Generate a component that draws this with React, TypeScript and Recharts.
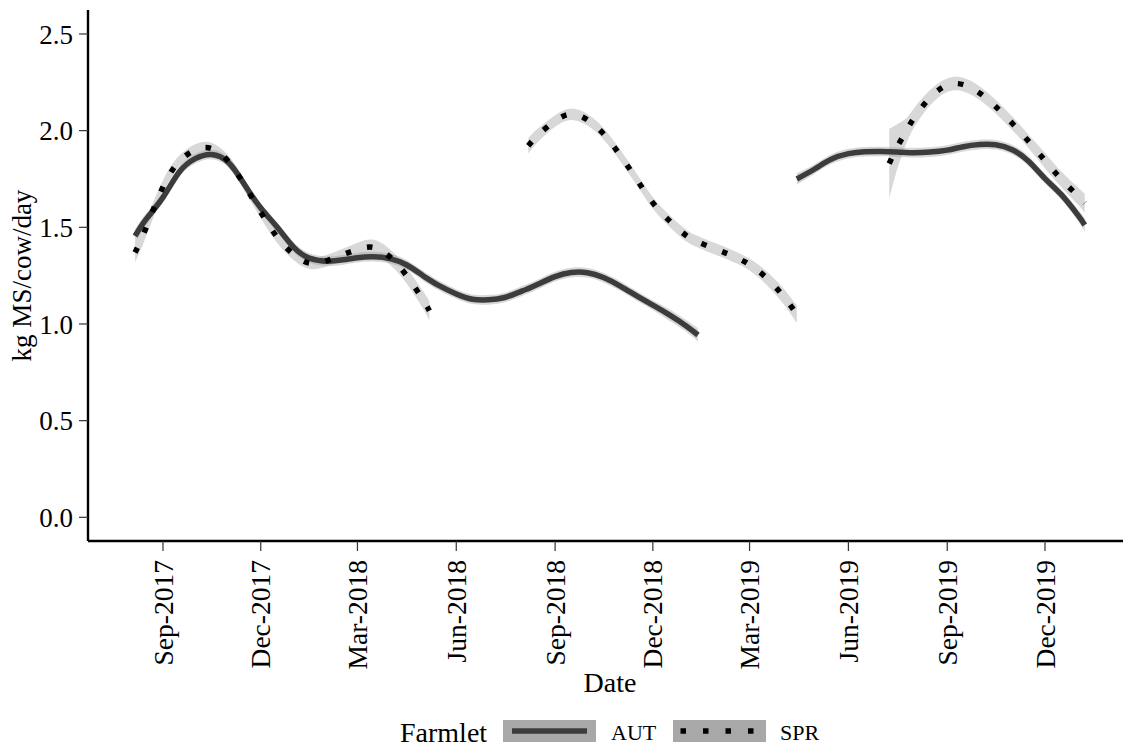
import React from "react";
import { ComposedChart, Line, Area, XAxis, YAxis, Legend } from "recharts";

// Daily milk solids per cow, smoothed fit with its confidence band, by farmlet.
const FONT = '"Liberation Serif", "Times New Roman", Times, serif';

const dates = [
  "2017-08-06", "2017-08-16", "2017-09-01", "2017-09-16", "2017-10-01", "2017-10-16",
  "2017-11-01", "2017-11-16", "2017-12-01", "2017-12-16", "2018-01-01", "2018-01-16",
  "2018-02-01", "2018-02-16", "2018-03-01", "2018-03-16", "2018-04-01", "2018-04-16",
  "2018-05-01", "2018-05-07", "2018-05-16", "2018-06-01", "2018-06-16", "2018-07-01",
  "2018-07-16", "2018-08-01", "2018-08-07", "2018-08-16", "2018-09-01", "2018-09-16",
  "2018-10-01", "2018-10-16", "2018-11-01", "2018-11-16", "2018-12-01", "2018-12-16",
  "2019-01-01", "2019-01-12", "2019-01-16", "2019-02-01", "2019-02-16", "2019-03-01",
  "2019-03-16", "2019-04-01", "2019-04-14", "2019-05-01", "2019-05-16", "2019-06-01",
  "2019-06-16", "2019-07-01", "2019-07-09", "2019-07-16", "2019-07-24", "2019-08-01",
  "2019-08-16", "2019-09-01", "2019-09-16", "2019-10-01", "2019-10-16", "2019-11-01",
  "2019-11-16", "2019-12-01", "2019-12-16", "2020-01-01", "2020-01-07",
];

// AUT farmlet: fitted kg MS/cow/day (null = no fit for that period)
const autFit: (number | null)[] = [
  1.455, 1.54, 1.655, 1.785, 1.855, 1.877,
  1.835, 1.72, 1.6, 1.503, 1.395, 1.339,
  1.325, 1.332, 1.343, 1.348, 1.337, 1.305,
  1.25, 1.228, 1.198, 1.155, 1.128, 1.125,
  1.137, 1.17, 1.183, 1.205, 1.245, 1.266,
  1.265, 1.24, 1.195, 1.145, 1.097, 1.048,
  0.99, 0.943, null, null, null, null,
  null, null, 1.75, 1.803, 1.852, 1.881,
  1.891, 1.892, 1.891, 1.889, 1.887, 1.886,
  1.889, 1.899, 1.917, 1.928, 1.927, 1.9,
  1.84, 1.752, 1.67, 1.56, 1.512,
];
const autHalfWidth = [
  0.035, 0.03, 0.025, 0.025, 0.025, 0.025,
  0.025, 0.025, 0.025, 0.025, 0.025, 0.025,
  0.025, 0.025, 0.025, 0.025, 0.025, 0.025,
  0.025, 0.025, 0.025, 0.025, 0.025, 0.025,
  0.025, 0.025, 0.025, 0.025, 0.025, 0.025,
  0.025, 0.025, 0.025, 0.025, 0.025, 0.03,
  0.03, 0.035, 0, 0, 0, 0,
  0, 0, 0.03, 0.025, 0.025, 0.025,
  0.025, 0.025, 0.025, 0.025, 0.025, 0.025,
  0.025, 0.025, 0.025, 0.025, 0.025, 0.025,
  0.025, 0.025, 0.025, 0.03, 0.035,
];

// SPR farmlet
const sprFit: (number | null)[] = [
  1.37, 1.494, 1.709, 1.84, 1.9, 1.908,
  1.84, 1.717, 1.578, 1.451, 1.358, 1.314,
  1.328, 1.36, 1.385, 1.396, 1.343, 1.248,
  1.125, 1.068, null, null, null, null,
  null, null, 1.922, 1.976, 2.05, 2.085,
  2.056, 1.984, 1.869, 1.747, 1.626, 1.536,
  1.458, 1.425, 1.415, 1.38, 1.345, 1.307,
  1.242, 1.147, 1.05, null, null, null,
  null, null, 1.83, 1.912, 1.99, 2.065,
  2.17, 2.235, 2.238, 2.195, 2.125, 2.035,
  1.943, 1.845, 1.75, 1.66, 1.625,
];
const sprHalfWidth = [
  0.05, 0.045, 0.035, 0.03, 0.03, 0.03,
  0.03, 0.03, 0.03, 0.03, 0.03, 0.03,
  0.03, 0.03, 0.035, 0.04, 0.04, 0.04,
  0.045, 0.05, 0, 0, 0, 0,
  0, 0, 0.04, 0.035, 0.03, 0.03,
  0.03, 0.03, 0.03, 0.03, 0.03, 0.03,
  0.03, 0.03, 0.03, 0.03, 0.03, 0.03,
  0.035, 0.04, 0.045, 0, 0, 0,
  0, 0, 0.18, 0.12, 0.07, 0.05,
  0.04, 0.035, 0.035, 0.035, 0.035, 0.035,
  0.035, 0.04, 0.04, 0.045, 0.05,
];

const tickDates = [
  "2017-09-01", "2017-12-01", "2018-03-01", "2018-06-01", "2018-09-01",
  "2018-12-01", "2019-03-01", "2019-06-01", "2019-09-01", "2019-12-01",
];
const tickLabels = [
  "Sep-2017", "Dec-2017", "Mar-2018", "Jun-2018", "Sep-2018",
  "Dec-2018", "Mar-2019", "Jun-2019", "Sep-2019", "Dec-2019",
];
const yTicks = [0, 0.5, 1, 1.5, 2, 2.5];

const DAY_MS = 86400000;
const ORIGIN = Date.UTC(2017, 8, 1);
const toDay = (iso: string) => {
  const [y, m, d] = iso.split("-").map(Number);
  return (Date.UTC(y, m - 1, d) - ORIGIN) / DAY_MS;
};

const band = (v: number | null, h: number) => (v == null ? null : [v - h, v + h]);

const rows = dates.map((d, i) => ({
  day: toDay(d),
  aut: autFit[i],
  autBand: band(autFit[i], autHalfWidth[i]),
  spr: sprFit[i],
  sprBand: band(sprFit[i], sprHalfWidth[i]),
}));

const tickDays = tickDates.map(toDay);
const labelByDay = new Map(tickDays.map((d, i) => [d, tickLabels[i]]));

const XTick = (props: any) => {
  const { x, y, payload } = props;
  return (
    <text
      x={x}
      y={y}
      transform={`rotate(-90, ${x}, ${y})`}
      textAnchor="end"
      dy="0.35em"
      fontSize={27.5}
      fontFamily={FONT}
      fill="#000"
    >
      {labelByDay.get(payload.value) ?? ""}
    </text>
  );
};

const YTitle = (props: any) => {
  const vb = props.viewBox ?? { x: 0, y: 10, width: 88, height: 531 };
  const cx = 31;
  const cy = vb.y + vb.height / 2;
  return (
    <text
      x={cx}
      y={cy}
      transform={`rotate(-90, ${cx}, ${cy})`}
      textAnchor="middle"
      fontSize={27}
      fontFamily={FONT}
      fill="#000"
    >
      kg MS/cow/day
    </text>
  );
};

const XTitle = (props: any) => {
  const vb = props.viewBox ?? { x: 88, y: 541, width: 1044, height: 205 };
  return (
    <text
      x={vb.x + vb.width / 2}
      y={vb.y + 151}
      textAnchor="middle"
      fontSize={28}
      fontFamily={FONT}
      fill="#000"
    >
      Date
    </text>
  );
};

const FarmletLegend = () => (
  <svg width={1123} height={46} style={{ display: "block" }}>
    <text x={400} y={41.5} fontSize={28} fontFamily={FONT} fill="#000">
      Farmlet
    </text>
    <rect x={503} y={20} width={93} height={22} fill="#a8a8a8" />
    <line x1={512} x2={587} y1={31} y2={31} stroke="#3c3c3c" strokeWidth={5.5} />
    <text x={611} y={39.5} fontSize={22} fontFamily={FONT} fill="#000">
      AUT
    </text>
    <rect x={673} y={20} width={93} height={22} fill="#a8a8a8" />
    <line
      x1={680.5}
      x2={754}
      y1={31}
      y2={31}
      stroke="#000"
      strokeWidth={5.5}
      strokeDasharray="5.5 17"
    />
    <text x={780} y={39.5} fontSize={22} fontFamily={FONT} fill="#000">
      SPR
    </text>
  </svg>
);

export default function App() {
  return (
    <div
      style={{
        position: "absolute",
        left: 0,
        top: 0,
        width: 1123,
        height: 746,
        overflow: "hidden",
        background: "#fff",
      }}
    >
      <ComposedChart
        width={1132}
        height={746}
        data={rows}
        margin={{ top: 10, right: 0, bottom: 0, left: 0 }}
      >
        <XAxis
          dataKey="day"
          type="number"
          domain={[-69.8, 902]}
          allowDataOverflow
          ticks={tickDays}
          interval={0}
          tick={<XTick />}
          tickSize={10}
          tickMargin={9}
          height={205}
          axisLine={{ stroke: "#000", strokeWidth: 2.4 }}
          tickLine={{ stroke: "#333", strokeWidth: 1.2 }}
          label={<XTitle />}
        />
        <YAxis
          type="number"
          domain={[-0.1225, 2.624]}
          allowDataOverflow
          ticks={yTicks}
          interval={0}
          tickFormatter={(v: number) => v.toFixed(1)}
          tick={{ fontSize: 27, fontFamily: FONT, fill: "#000" }}
          tickSize={9}
          tickMargin={6}
          width={88}
          axisLine={{ stroke: "#000", strokeWidth: 2.4 }}
          tickLine={{ stroke: "#333", strokeWidth: 1.2 }}
          label={<YTitle />}
        />
        <Area
          dataKey="autBand"
          type="natural"
          stroke="none"
          fill="#9e9e9e"
          fillOpacity={0.4}
          dot={false}
          activeDot={false}
          legendType="none"
          isAnimationActive={false}
        />
        <Line
          dataKey="aut"
          type="natural"
          stroke="#3c3c3c"
          strokeWidth={5.5}
          dot={false}
          activeDot={false}
          isAnimationActive={false}
        />
        <Area
          dataKey="sprBand"
          type="natural"
          stroke="none"
          fill="#9e9e9e"
          fillOpacity={0.4}
          dot={false}
          activeDot={false}
          legendType="none"
          isAnimationActive={false}
        />
        <Line
          dataKey="spr"
          type="natural"
          stroke="#000"
          strokeWidth={5.5}
          strokeDasharray="5.5 16.5"
          strokeLinecap="butt"
          dot={false}
          activeDot={false}
          isAnimationActive={false}
        />
        <Legend
          layout="horizontal"
          verticalAlign="middle"
          align="center"
          wrapperStyle={{ left: 0, top: 700, width: 1123, height: 46 }}
          content={() => <FarmletLegend />}
        />
      </ComposedChart>
    </div>
  );
}
